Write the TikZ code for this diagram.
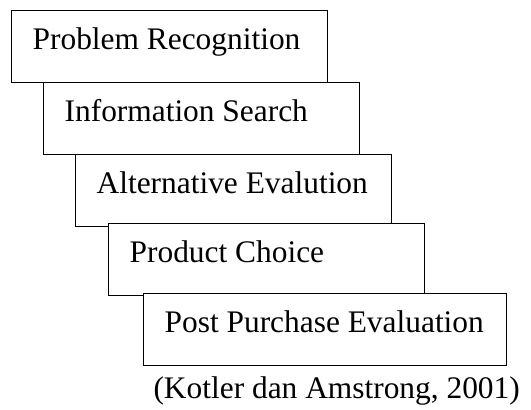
\documentclass[tikz,border=0pt]{standalone}
\usepackage{fontspec}
\setmainfont{Liberation Serif}
\begin{document}
\begin{tikzpicture}[x=1pt,y=-1pt]
                    \tikzstyle{stage}=[draw,fill=white,line width=1.3pt,anchor=north west,align=flush left,inner xsep=21pt,inner ysep=0pt,text width=274pt,text height=38.5pt,text depth=33.5pt,font=\fontsize{31.4}{36}\selectfont]
                    \useasboundingbox (0,0) rectangle (531,410);

                    \node (s1) at (11,10) [stage] {Problem Recognition};
                    \node (s2) at (43,82) [stage] {Information Search};
                    \node (s3) at (75,154) [stage] {Alternative Evalution};
                    \node (s4) at (108,223) [stage] {Product Choice};
                    \node (s5) at (143,293) [stage,text width=321pt] {Post Purchase Evaluation};

                    \node (src) at (520,398) [anchor=base east,inner sep=0pt,font=\fontsize{31.4}{36}\selectfont] {(Kotler dan Amstrong, 2001)};
                \end{tikzpicture}
\end{document}
